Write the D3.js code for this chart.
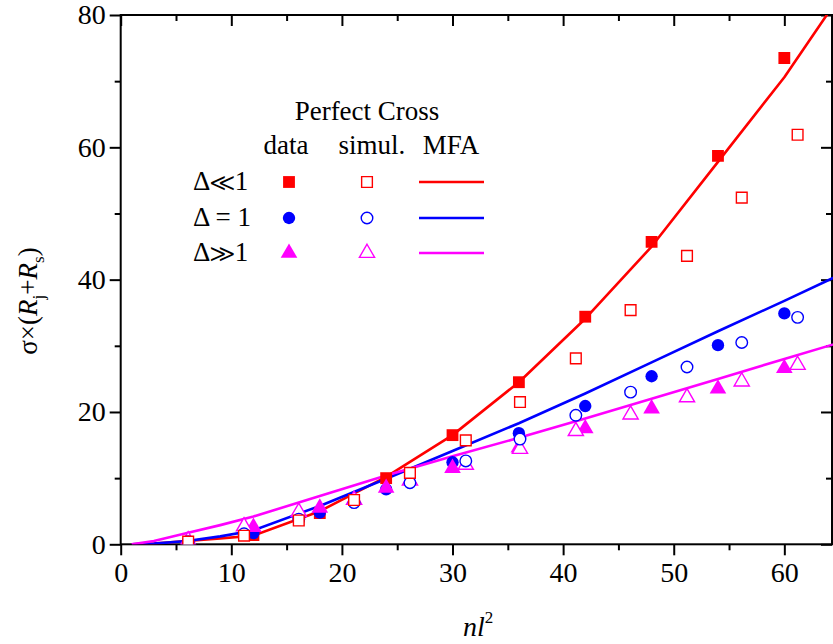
<!DOCTYPE html>
<html>
<head>
<meta charset="utf-8">
<script src="https://cdn.jsdelivr.net/npm/d3@7"></script>
<style>
    body { margin: 0; background: #fff; }
    .axis path { display: none; }
    .axis line { stroke: #000; stroke-width: 2; }
</style>
</head>
<body>
<script>
// x positions of the measured points and of the simulation points
const dataX = [12, 18, 24, 30, 36, 42, 48, 54, 60];
const simulX = [6.1, 11.15, 16.1, 21.1, 26.15, 31.2, 36.1, 41.15, 46.1, 51.2, 56.15, 61.2];

// measured data (filled symbols)
const dataSmall = [1.4, 4.7, 10.0, 16.5, 24.5, 34.4, 45.7, 58.7, 73.5];
const dataEqual = [1.7, 4.8, 8.3, 12.4, 16.8, 20.9, 25.4, 30.1, 34.9];
const dataLarge = [2.6, 5.5, 8.5, 11.5, 14.6, 17.5, 20.5, 23.5, 26.6];

// simulation (open symbols)
const simulSmall = [0.4, 1.3, 3.6, 6.7, 10.8, 15.7, 21.5, 28.1, 35.4, 43.6, 52.4, 61.9];
const simulEqual = [0.4, 1.6, 3.8, 6.3, 9.3, 12.6, 15.9, 19.5, 23.0, 26.8, 30.5, 34.3];
const simulLarge = [0.6, 2.7, 4.9, 6.7, 9.6, 12.0, 14.4, 17.1, 19.6, 22.2, 24.6, 27.1];

// MFA curves
const mfaX = [1, 3, 6, 9, 12, 18, 24, 30, 36, 42, 48, 54, 60, 66];
const mfaSmall = [0, 0.1, 0.5, 0.9, 1.3, 5.0, 10.2, 16.5, 24.5, 34.1, 45.0, 57.8, 70.6, 85.3];
const mfaEqual = [0, 0.1, 0.5, 1.2, 2.1, 5.8, 9.9, 14.1, 18.3, 22.8, 27.5, 32.2, 36.8, 41.5];
const mfaLarge = [0, 0.5, 1.7, 2.9, 4.2, 7.3, 10.4, 13.3, 16.1, 19.0, 22.0, 25.0, 28.0, 31.0];

const xMajor = [0, 10, 20, 30, 40, 50, 60];
const xMinor = [5, 15, 25, 35, 45, 55];
const yMajor = [0, 20, 40, 60, 80];
const yMinor = [10, 30, 50, 70];

const series = [
    {label: "Δ≪1", color: "#ff0000", shape: d3.symbolSquare, data: dataSmall, simul: simulSmall, mfa: mfaSmall, size: 140, openSize: 115},
    {label: "Δ = 1", color: "#0000ff", shape: d3.symbolCircle, data: dataEqual, simul: simulEqual, mfa: mfaEqual, size: 120, openSize: 105},
    {label: "Δ≫1", color: "#ff00ff", shape: d3.symbolTriangle, data: dataLarge, simul: simulLarge, mfa: mfaLarge, size: 120, openSize: 100},
];

const serif = "Liberation Serif";
const width = 833, height = 644;
const plotLeft = 120.7, plotRight = 833, plotTop = 15, plotBottom = 544.3;

const svg = d3.select("body").append("svg")
    .attr("width", width)
    .attr("height", height)
    .style("display", "block");

const x = d3.scaleLinear().domain([0, 64.4]).range([plotLeft, plotRight]);
const y = d3.scaleLinear().domain([0, 80]).range([plotBottom, plotTop]);

svg.append("clipPath").attr("id", "plot-clip")
    .append("rect")
    .attr("x", plotLeft).attr("y", plotTop)
    .attr("width", plotRight - plotLeft).attr("height", plotBottom - plotTop);

// axes: labelled majors plus unlabelled minors on every side
function addAxis(axis, values, size, transform, labels) {
    var g = svg.append("g")
        .attr("class", "axis")
        .attr("transform", transform)
        .call(axis.tickValues(values).tickSize(size).tickSizeOuter(0))
        .attr("font-family", serif)
        .attr("font-size", 28);
    g.selectAll("text").attr("fill", "#000");
    if (!labels) {
        g.selectAll("text").remove();
    }
    return g;
}

addAxis(d3.axisBottom(x).tickPadding(7), xMajor, 11, `translate(0,${plotBottom})`, true);
addAxis(d3.axisBottom(x), xMinor, 6, `translate(0,${plotBottom})`, false);
addAxis(d3.axisTop(x), xMajor, -11, `translate(0,${plotTop})`, false);
addAxis(d3.axisTop(x), xMinor, -6, `translate(0,${plotTop})`, false);
addAxis(d3.axisLeft(y).tickPadding(4), yMajor, 11, `translate(${plotLeft},0)`, true);
addAxis(d3.axisLeft(y), yMinor, 6, `translate(${plotLeft},0)`, false);
addAxis(d3.axisRight(y), yMajor, -11, `translate(${plotRight - 1},0)`, false);
addAxis(d3.axisRight(y), yMinor, -6, `translate(${plotRight - 1},0)`, false);

// frame
svg.append("rect")
    .attr("x", plotLeft).attr("y", plotTop)
    .attr("width", plotRight - 1 - plotLeft).attr("height", plotBottom - plotTop)
    .attr("fill", "none")
    .attr("stroke", "#000")
    .attr("stroke-width", 2);

const plot = svg.append("g").attr("clip-path", "url(#plot-clip)");

const line = d3.line()
    .x((d, i) => x(mfaX[i]))
    .y(d => y(d));

series.forEach(s => {
    plot.append("path")
        .datum(s.mfa)
        .attr("fill", "none")
        .attr("stroke", s.color)
        .attr("stroke-width", 2.6)
        .attr("stroke-linejoin", "round")
        .attr("d", line);
});

series.forEach(s => {
    plot.append("g").selectAll("path")
        .data(s.data)
        .join("path")
        .attr("transform", (d, i) => `translate(${x(dataX[i])},${y(d)})`)
        .attr("d", d3.symbol(s.shape, s.size))
        .attr("fill", s.color);
});

// open symbols are white-filled; squares go on top so the x=6 point reads as a square
[series[2], series[1], series[0]].forEach(s => {
    plot.append("g").selectAll("path")
        .data(s.simul)
        .join("path")
        .attr("transform", (d, i) => `translate(${x(simulX[i])},${y(d)})`)
        .attr("d", d3.symbol(s.shape, s.openSize))
        .attr("fill", "#fff")
        .attr("stroke", s.color)
        .attr("stroke-width", 1.4);
});

// legend
const legend = svg.append("g")
    .attr("font-family", serif)
    .attr("font-size", 27)
    .attr("fill", "#000");

legend.append("text")
    .attr("x", 367).attr("y", 120)
    .attr("text-anchor", "middle")
    .text("Perfect Cross");

[["data", 286], ["simul.", 372], ["MFA", 451]].forEach(([t, cx]) => {
    legend.append("text")
        .attr("x", cx).attr("y", 154)
        .attr("text-anchor", "middle")
        .text(t);
});

const rowY = [182, 218, 253];
series.forEach((s, i) => {
    legend.append("text")
        .attr("x", 193).attr("y", rowY[i] + 8)
        .attr("font-family", "Liberation Serif, FreeSerif")
        .text(s.label);
    legend.append("path")
        .attr("transform", `translate(289,${rowY[i]})`)
        .attr("d", d3.symbol(s.shape, s.size))
        .attr("fill", s.color);
    legend.append("path")
        .attr("transform", `translate(367,${rowY[i]})`)
        .attr("d", d3.symbol(s.shape, s.openSize))
        .attr("fill", "#fff")
        .attr("stroke", s.color)
        .attr("stroke-width", 1.4);
    legend.append("line")
        .attr("x1", 419).attr("x2", 484)
        .attr("y1", rowY[i]).attr("y2", rowY[i])
        .attr("stroke", s.color)
        .attr("stroke-width", 2.6);
});

// axis titles
const xTitle = svg.append("text")
    .attr("x", 463).attr("y", 636)
    .attr("font-family", serif)
    .attr("font-size", 28)
    .attr("font-style", "italic");
xTitle.append("tspan").text("nl");
xTitle.append("tspan").attr("font-size", 17).attr("font-style", "normal").attr("dy", -13).text("2");

const yTitle = svg.append("text")
    .attr("transform", "translate(37,301) rotate(-90)")
    .attr("text-anchor", "middle")
    .attr("font-family", serif)
    .attr("font-size", 27);
yTitle.append("tspan").text("σ×(");
yTitle.append("tspan").attr("font-style", "italic").text("R");
yTitle.append("tspan").attr("font-size", 17).attr("dy", 7).text("j");
yTitle.append("tspan").attr("dy", -7).text("+");
yTitle.append("tspan").attr("font-style", "italic").text("R");
yTitle.append("tspan").attr("font-size", 17).attr("dy", 7).text("s");
yTitle.append("tspan").attr("dy", -7).text(")");
</script>
</body>
</html>
